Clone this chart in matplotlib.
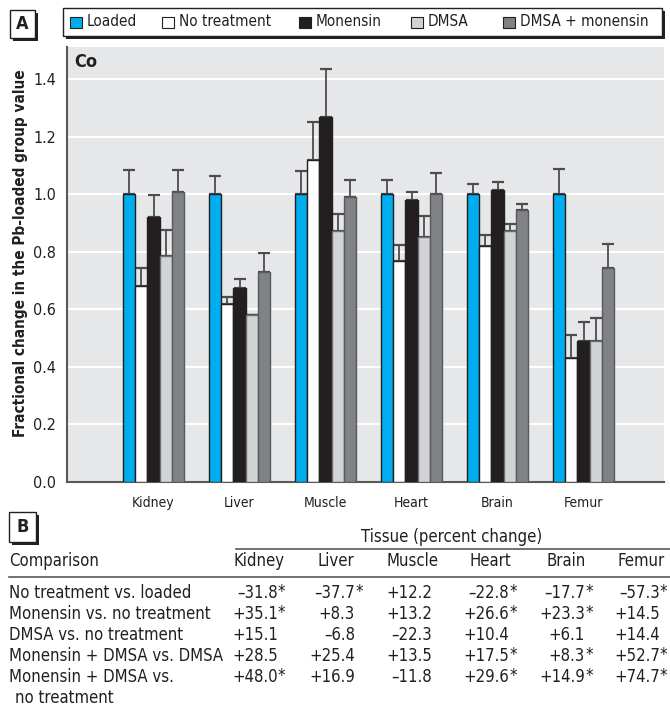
# -*- coding: utf-8 -*-
# Co tissue levels after chelation treatments, with percent-change table

import os
import numpy as np
import matplotlib
matplotlib.use('Agg')
import matplotlib.pyplot as plt
from matplotlib.patches import Rectangle
from matplotlib import font_manager

tissues = ['Kidney', 'Liver', 'Muscle', 'Heart', 'Brain', 'Femur']
groups = ['Loaded', 'No treatment', 'Monensin', 'DMSA', 'DMSA + monensin']

loaded = [1.0, 1.0, 1.0, 1.0, 1.0, 1.0]
no_treatment = [0.68, 0.62, 1.12, 0.77, 0.82, 0.43]
monensin = [0.92, 0.675, 1.27, 0.98, 1.015, 0.49]
dmsa = [0.785, 0.58, 0.872, 0.852, 0.873, 0.49]
dmsa_monensin = [1.01, 0.73, 0.99, 1.0, 0.946, 0.746]

loaded_err = [0.085, 0.065, 0.082, 0.052, 0.038, 0.089]
no_treatment_err = [0.065, 0.022, 0.133, 0.053, 0.040, 0.083]
monensin_err = [0.078, 0.03, 0.168, 0.03, 0.03, 0.065]
dmsa_err = [0.09, 0.0, 0.06, 0.073, 0.026, 0.08]
dmsa_monensin_err = [0.075, 0.066, 0.062, 0.076, 0.022, 0.081]

comparisons = ['No treatment vs. loaded', 'Monensin vs. no treatment',
               'DMSA vs. no treatment', 'Monensin + DMSA vs. DMSA',
               'Monensin + DMSA vs.']
pct_kidney = ['\u201331.8*', '+35.1*', '+15.1', '+28.5', '+48.0*']
pct_liver = ['\u201337.7*', '+8.3', '\u20136.8', '+25.4', '+16.9']
pct_muscle = ['+12.2', '+13.2', '\u201322.3', '+13.5', '\u201311.8']
pct_heart = ['\u201322.8*', '+26.6*', '+10.4', '+17.5*', '+29.6*']
pct_brain = ['\u201317.7*', '+23.3*', '+6.1', '+8.3*', '+14.9*']
pct_femur = ['\u201357.3*', '+14.5', '+14.4', '+52.7*', '+74.7*']

colors = ['#00aeef', '#ffffff', '#231f20', '#d1d3d4', '#808285']
edges = ['#231f20', '#231f20', '#231f20', '#6d6e71', '#58595b']
INK = '#231f20'

W, H = 670, 717


def pick_narrow_font():
    """find a condensed sans face, else fall back to plain DejaVu Sans"""
    for fam in ['Liberation Sans Narrow', 'DejaVu Sans']:
        try:
            path = font_manager.findfont(
                font_manager.FontProperties(family=fam, stretch='condensed'),
                fallback_to_default=False)
        except Exception:
            continue
        name = os.path.basename(path).lower()
        if 'narrow' in name or 'condensed' in name:
            return fam, 'condensed', 1.0
    return 'DejaVu Sans', 'normal', 0.88


FAMILY, STRETCH, SCALE = pick_narrow_font()
plt.rcParams['font.family'] = [FAMILY, 'DejaVu Sans']
plt.rcParams['font.stretch'] = STRETCH


def fs(size):
    return size * SCALE


def fx(x):
    return x / W


def fy(y):
    return 1 - y / H


def boxed_letter(fig, x0, y0, x1, y1, letter):
    # white box with a dark drop shadow
    fig.patches.append(Rectangle((fx(x0 + 3), fy(y1 + 3)), (x1 - x0) / W, (y1 - y0) / H,
                                 transform=fig.transFigure, facecolor=INK,
                                 edgecolor='none', zorder=1))
    fig.patches.append(Rectangle((fx(x0), fy(y1)), (x1 - x0) / W, (y1 - y0) / H,
                                 transform=fig.transFigure, facecolor='white',
                                 edgecolor=INK, lw=1.0, zorder=2))
    fig.text(fx((x0 + x1) / 2), fy((y0 + y1) / 2), letter, ha='center', va='center',
             fontsize=fs(13), fontweight='bold', color=INK, zorder=3)


fig = plt.figure(figsize=(W / 100, H / 100), dpi=100)

# panel A: bar chart
ax = fig.add_axes([fx(67), fy(482), (664 - 67) / W, (482 - 47) / H])
ax.set_facecolor('#e6e7e8')
x = np.arange(len(tissues))
bw = 0.142
series = [loaded, no_treatment, monensin, dmsa, dmsa_monensin]
errs = [loaded_err, no_treatment_err, monensin_err, dmsa_err, dmsa_monensin_err]
for i, (vals, err) in enumerate(zip(series, errs)):
    err = np.array(err)
    ax.bar(x + (i - 2) * bw, vals, bw, color=colors[i], edgecolor=edges[i],
           linewidth=1.0, zorder=3,
           yerr=[np.zeros_like(err), err],
           error_kw=dict(ecolor='#4d4d4f', elinewidth=1.3, capsize=4, capthick=1.6, zorder=2))

ax.set_xlim(-1.006, 5.936)
ax.set_ylim(0, 1.513)
ticks = np.arange(0, 1.41, 0.2)
ax.set_yticks(ticks)
ax.set_yticklabels(['%.1f' % v for v in ticks], fontsize=fs(11.5), color=INK)
ax.set_xticks(x)
ax.set_xticklabels(tissues, fontsize=fs(10), color=INK)
ax.tick_params(axis='both', length=0)
ax.tick_params(axis='y', pad=8)
ax.tick_params(axis='x', pad=10)
ax.yaxis.grid(True, color='white', lw=1.5, zorder=0)
ax.set_axisbelow(True)
for s in ['top', 'right']:
    ax.spines[s].set_visible(False)
for s in ['left', 'bottom']:
    ax.spines[s].set_color('#58595b')
    ax.spines[s].set_linewidth(1.5)
ax.set_ylabel('Fractional change in the Pb-loaded group value', fontsize=fs(11),
              fontweight='bold', color=INK)
ax.yaxis.set_label_coords(-0.066, 0.526)
ax.text(0.012, 0.965, 'Co', transform=ax.transAxes, fontsize=fs(13), fontweight='bold',
        color=INK, va='center', ha='left')

# legend strip across the top
fig.patches.append(Rectangle((fx(66), fy(39)), (662 - 63) / W, 28 / H,
                             transform=fig.transFigure, facecolor=INK,
                             edgecolor='none', zorder=1))
fig.patches.append(Rectangle((fx(63), fy(36)), (662 - 63) / W, 28 / H,
                             transform=fig.transFigure, facecolor='white',
                             edgecolor=INK, lw=1.0, zorder=2))
legend_x = [70, 162, 299, 411, 503]
for lx, name, c in zip(legend_x, groups, colors):
    fig.patches.append(Rectangle((fx(lx), fy(28)), 12 / W, 11 / H,
                                 transform=fig.transFigure, facecolor=c,
                                 edgecolor=INK, lw=0.8, zorder=3))
    fig.text(fx(lx + 17), fy(22), name, fontsize=fs(11), color=INK,
             va='center', ha='left', zorder=3)

boxed_letter(fig, 10, 10, 35, 38, 'A')
boxed_letter(fig, 9, 512, 36, 542, 'B')

# panel B: percent change table
col_centers = [259, 336, 413, 490, 566, 641]
columns = [pct_kidney, pct_liver, pct_muscle, pct_heart, pct_brain, pct_femur]
tfs = fs(12)
fig.text(fx(452), fy(537), 'Tissue (percent change)', fontsize=tfs, color=INK,
         ha='center', va='center')
fig.add_artist(plt.Line2D([fx(236), fx(670)], [fy(549), fy(549)], color='#58595b', lw=1.2))
fig.add_artist(plt.Line2D([fx(9), fx(670)], [fy(577), fy(577)], color='#58595b', lw=1.2))
fig.text(fx(9), fy(561), 'Comparison', fontsize=tfs, color=INK, ha='left', va='center')
for cx, name in zip(col_centers, tissues):
    fig.text(fx(cx), fy(561), name, fontsize=tfs, color=INK, ha='center', va='center')

row_y = [593, 614, 635, 656, 677]
for ry, label in zip(row_y, comparisons):
    fig.text(fx(9), fy(ry), label, fontsize=tfs, color=INK, ha='left', va='center')
fig.text(fx(15), fy(698), 'no treatment', fontsize=tfs, color=INK, ha='left', va='center')

for cx, vals in zip(col_centers, columns):
    for ry, v in zip(row_y, vals):
        num = v.rstrip('*')
        fig.text(fx(cx + 19), fy(ry), num, fontsize=tfs, color=INK, ha='right', va='center')
        if v.endswith('*'):
            fig.text(fx(cx + 19), fy(ry - 1), '*', fontsize=tfs, color=INK,
                     ha='left', va='center')

fig.savefig('out.png', dpi=100)
